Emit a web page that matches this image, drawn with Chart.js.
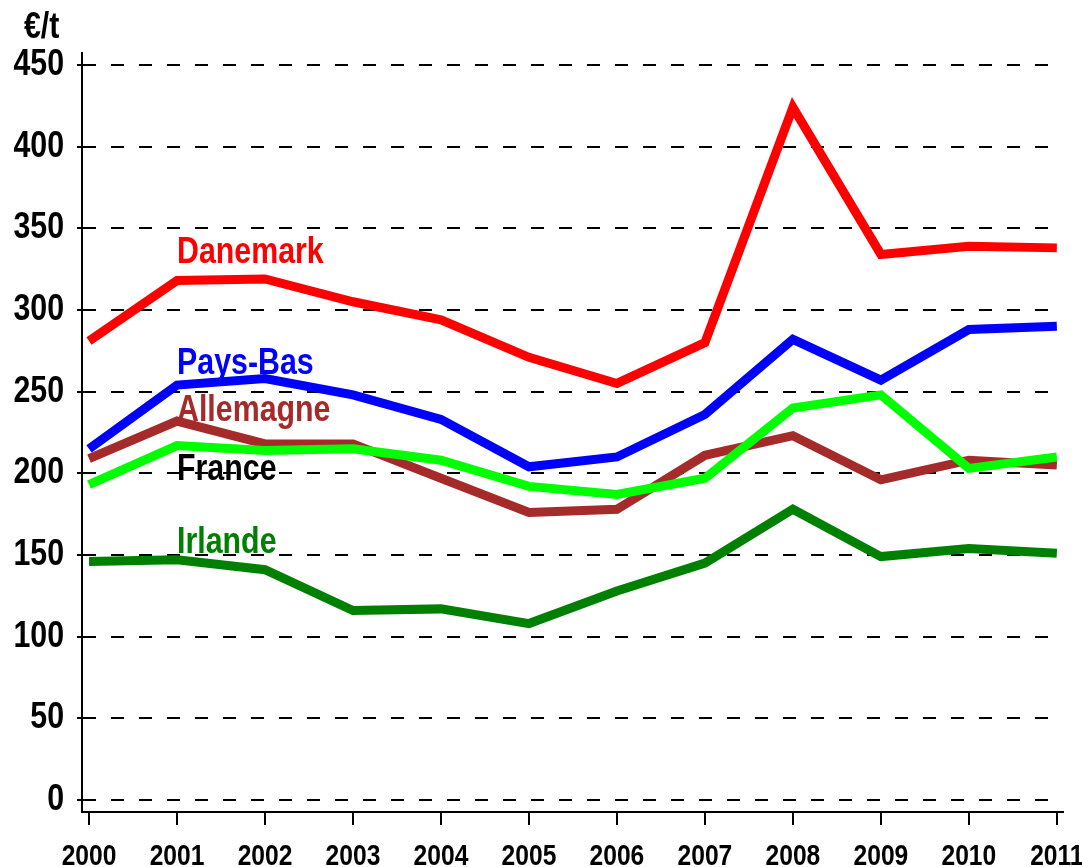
<!DOCTYPE html>
<html lang="fr">
  <head>
    <meta charset="UTF-8" />
    <title>Prix en €/t</title>
    <style>
      html, body {
        margin: 0;
        padding: 0;
        background: #fff;
      }
      .chart-container {
        position: relative;
        width: 1082px;
        height: 867px;
      }
    </style>
    <script src="https://cdn.jsdelivr.net/npm/chart.js"></script>
  </head>
  <body>
    <div class="chart-container">
      <canvas id="myChart"></canvas>
    </div>

    <script>
      const years = [2000, 2001, 2002, 2003, 2004, 2005, 2006, 2007, 2008, 2009, 2010, 2011];
      const yTicks = [0, 50, 100, 150, 200, 250, 300, 350, 400, 450];

      const danemark  = [281, 318, 319, 305, 294, 271, 255, 280, 424, 334, 339, 338];
      const paysBas   = [215, 254, 258, 248, 233, 204, 210, 236, 282, 257, 288, 290];
      const allemagne = [209, 232, 218, 218, 197, 176, 178, 211, 223, 196, 208, 205];
      const france    = [193, 217, 214, 215, 208, 192, 187, 197, 240, 248, 203, 210];
      const irlande   = [146, 147, 141, 116, 117, 108, 128, 145, 178, 149, 154, 151];

      const FONT = "'Liberation Sans', Arial, sans-serif";
      const NARROW = 0.82; // squeeze to look like Arial Narrow

      // where the series names are written (x = year, y = value at baseline)
      const seriesLabels = [
        { text: 'Danemark',  color: '#ff0000', x: 2001, y: 329 },
        { text: 'Pays-Bas',  color: '#0000ff', x: 2001, y: 261 },
        { text: 'Allemagne', color: '#a52a2a', x: 2001, y: 232 },
        { text: 'France',    color: '#000000', x: 2001, y: 196 },
        { text: 'Irlande',   color: '#008000', x: 2001, y: 151 }
      ];

      function toPoints(values) {
        return values.map((v, i) => ({ x: years[i], y: v }));
      }

      function narrowText(ctx, text, x, y, size, align, color) {
        ctx.save();
        ctx.font = 'bold ' + size + 'px ' + FONT;
        ctx.fillStyle = color;
        ctx.textBaseline = 'alphabetic';
        ctx.textAlign = align;
        ctx.translate(x, y);
        ctx.scale(NARROW, 1);
        ctx.fillText(text, 0, 0);
        ctx.restore();
      }

      const textPlugin = {
        id: 'textPlugin',
        afterDatasetsDraw(chart) {
          const ctx = chart.ctx;
          const xs = chart.scales.x;
          const ys = chart.scales.y;
          seriesLabels.forEach(l => {
            narrowText(ctx, l.text, xs.getPixelForValue(l.x), ys.getPixelForValue(l.y), 37, 'left', l.color);
          });
          // tick labels
          yTicks.forEach(v => {
            narrowText(ctx, String(v), chart.chartArea.left - 18, ys.getPixelForValue(v) + 10, 37, 'right', '#000');
          });
          years.forEach(v => {
            narrowText(ctx, String(v), xs.getPixelForValue(v), xs.top + 53, 30, 'center', '#000');
          });
          // unit
          narrowText(ctx, '€/t', 24, 38, 37, 'left', '#000');
        }
      };

      const ctx = document.getElementById('myChart').getContext('2d');

      const myChart = new Chart(ctx, {
        type: 'line',
        data: {
          datasets: [
            { label: 'Danemark',  data: toPoints(danemark),  borderColor: '#ff0000' },
            { label: 'Pays-Bas',  data: toPoints(paysBas),   borderColor: '#0000ff' },
            { label: 'France',    data: toPoints(france),    borderColor: '#00ff00' },
            { label: 'Allemagne', data: toPoints(allemagne), borderColor: '#a52a2a' },
            { label: 'Irlande',   data: toPoints(irlande),   borderColor: '#008000' }
          ]
        },
        options: {
          responsive: true,
          maintainAspectRatio: false,
          animation: false,
          layout: {
            padding: { top: 53, right: 19, left: 0, bottom: 0 }
          },
          elements: {
            line: { borderWidth: 9, tension: 0, fill: false },
            point: { radius: 0 }
          },
          plugins: {
            legend: { display: false },
            tooltip: { enabled: false }
          },
          scales: {
            x: {
              type: 'linear',
              min: 1999.92,
              max: 2011.07,
              afterBuildTicks(scale) {
                scale.ticks = years.map(v => ({ value: v }));
              },
              afterFit(scale) {
                scale.height = 55;
                scale.paddingLeft = 0;
                scale.paddingRight = 0;
              },
              border: { display: true, color: '#000', width: 2 },
              grid: {
                drawOnChartArea: false,
                drawTicks: true,
                tickLength: 13,
                color: '#000',
                lineWidth: 2
              },
              ticks: { display: false }
            },
            y: {
              min: -7.35,
              max: 457.3,
              afterBuildTicks(scale) {
                scale.ticks = yTicks.map(v => ({ value: v }));
              },
              afterFit(scale) {
                scale.width = 82;
              },
              // in v4 border.dash is what dashes the grid lines
              border: { display: true, color: '#000', width: 2, dash: [13, 15] },
              grid: {
                color: '#000',
                lineWidth: 2,
                drawTicks: true,
                tickLength: 5,
                tickColor: '#000',
                tickBorderDash: []
              },
              ticks: { display: false }
            }
          }
        },
        plugins: [textPlugin]
      });
    </script>
  </body>
</html>
